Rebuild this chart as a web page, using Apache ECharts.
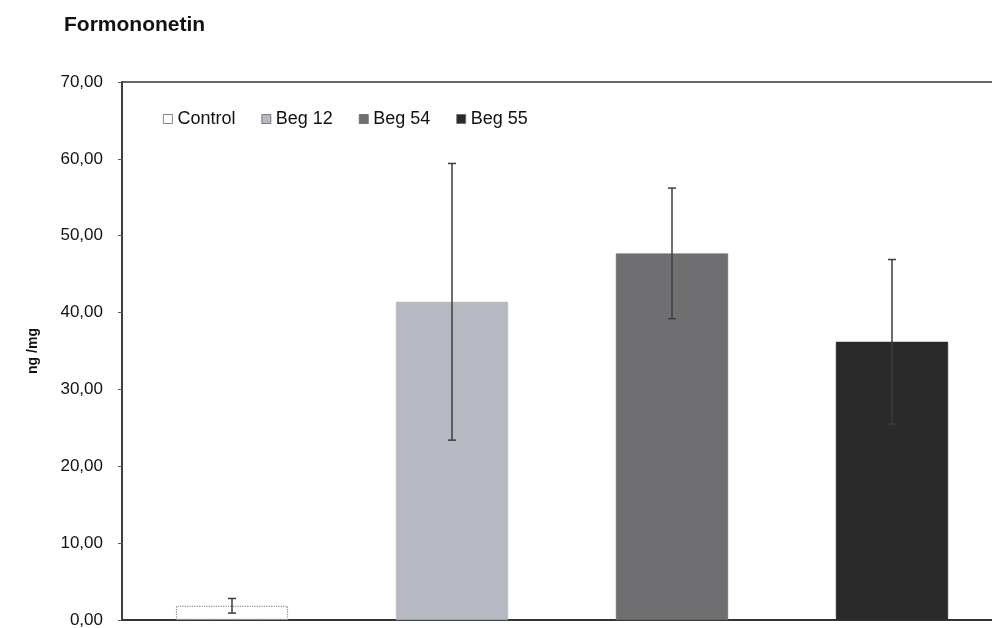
<!DOCTYPE html>
<html>
<head>
<meta charset="utf-8">
<script src="https://cdn.jsdelivr.net/npm/echarts@6/dist/echarts.min.js"></script>
<style>html,body{margin:0;padding:0;background:#fff}#c{width:992px;height:628px}</style>
</head>
<body>
<div id="c"></div>
<script>
var categories = ['Control', 'Beg 12', 'Beg 54', 'Beg 55'];
var means = [1.85, 41.4, 47.7, 36.2];
var errors = [0.95, 18.0, 8.5, 10.7];
var yTickLabels = ['0,00', '10,00', '20,00', '30,00', '40,00', '50,00', '60,00', '70,00'];
var colors = ['#ffffff', '#b7b9c2', '#6f6f71', '#2a2a2a'];

var chart = echarts.init(document.getElementById('c'));
var series = categories.map(function (name, i) {
  var d = categories.map(function (_, j) { return j === i ? means[i] : '-'; });
  return {
    name: name, type: 'bar', stack: 'all', data: d, barWidth: '51%',
    itemStyle: {
      color: colors[i],
      borderColor: i === 0 ? '#8a8a8a' : colors[i],
      borderType: i === 0 ? 'dotted' : 'solid',
      borderWidth: i === 0 ? 1.2 : 0.5
    }
  };
});
series.push({
  type: 'custom', name: 'err', z: 10,
  data: categories.map(function (_, i) { return [i, means[i] - errors[i], means[i] + errors[i]]; }),
  renderItem: function (params, api) {
    var lo = api.coord([api.value(0), api.value(1)]);
    var hi = api.coord([api.value(0), api.value(2)]);
    var w = 4;
    var st = { stroke: '#3c3c3c', lineWidth: 1.5 };
    return { type: 'group', children: [
      { type: 'line', shape: { x1: hi[0], y1: hi[1], x2: lo[0], y2: lo[1] }, style: st },
      { type: 'line', shape: { x1: hi[0] - w, y1: hi[1], x2: hi[0] + w, y2: hi[1] }, style: st },
      { type: 'line', shape: { x1: lo[0] - w, y1: lo[1], x2: lo[0] + w, y2: lo[1] }, style: st }
    ]};
  }
});

chart.setOption({
  animation: false,
  backgroundColor: '#fff',
  textStyle: { fontFamily: 'Liberation Sans, Arial, sans-serif' },
  title: {
    text: 'Formononetin', left: 59, top: 10,
    textStyle: { fontSize: 21, fontWeight: 'bold', color: '#111', fontFamily: 'Liberation Sans, Arial, sans-serif' }
  },
  legend: {
    data: categories, left: 158, top: 105, itemWidth: 9, itemHeight: 9, itemGap: 26,
    icon: 'rect',
    textStyle: { fontSize: 18, color: '#111' },
    itemStyle: { borderColor: '#666', borderWidth: 0.8 }
  },
  grid: {
    left: 122, top: 82, height: 538, width: 880, outerBoundsMode: 'none', containLabel: false,
    show: true, borderColor: '#333', borderWidth: 1.5, backgroundColor: '#fff'
  },
  xAxis: {
    type: 'category', data: categories,
    axisLabel: { show: false }, axisTick: { show: false },
    axisLine: { lineStyle: { color: '#333', width: 2 } }
  },
  yAxis: {
    type: 'value', min: 0, max: 70, interval: 10,
    name: 'ng /mg', nameLocation: 'middle', nameGap: 82, nameRotate: 90,
    nameTextStyle: { fontSize: 14, fontWeight: 'bold', color: '#111' },
    axisLine: { show: true, lineStyle: { color: '#333', width: 1.5 } },
    axisTick: { show: true, length: 4, lineStyle: { color: '#555' } },
    axisLabel: { fontSize: 17, color: '#111', margin: 19,
      formatter: function (v) { return yTickLabels[Math.round(v / 10)]; } },
    splitLine: { show: false }
  },
  series: series
});
</script>
</body>
</html>
